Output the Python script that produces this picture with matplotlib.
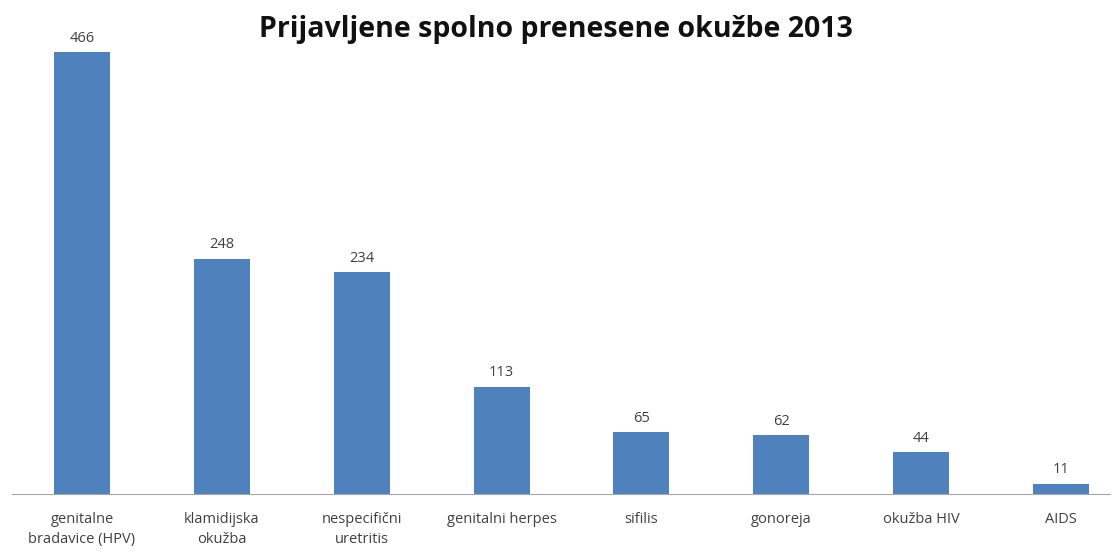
import numpy as np
import matplotlib.pyplot as plt

categories = ["genitalne\nbradavice (HPV)", "klamidijska\nokužba", "nespecifični\nuretritis",
              "genitalni herpes", "sifilis", "gonoreja", "okužba HIV", "AIDS"]
values = [466, 248, 234, 113, 65, 62, 44, 11]

plt.rcParams['font.family'] = ['Open Sans', 'DejaVu Sans']

fig = plt.figure(figsize=(11.19, 5.52), dpi=100)
ax = fig.add_axes([12 / 1119, 58 / 552, 1098 / 1119, 474 / 552])

x = np.arange(len(categories))
bars = ax.bar(x, values, width=0.4, color="#4F81BD")

for xi, v in zip(x, values):
    ax.text(xi, v + 7, str(v), ha="center", va="bottom", fontsize=10.5, color="#404040")

ax.set_xlim(-0.5, 7.35)
ax.set_ylim(0, 500)
ax.set_xticks(x)
ax.set_xticklabels(categories, fontsize=10.5, color="#404040", linespacing=1.45)
ax.tick_params(axis="x", length=0, pad=13)
ax.set_yticks([])
for side in ["top", "right", "left"]:
    ax.spines[side].set_visible(False)
ax.spines["bottom"].set_color("#A6A6A6")

fig.text(0.497, 0.946, "Prijavljene spolno prenesene okužbe 2013", ha="center", va="center",
         fontsize=20.5, fontweight="bold", color="#111111")

fig.savefig("out.png", dpi=100)
